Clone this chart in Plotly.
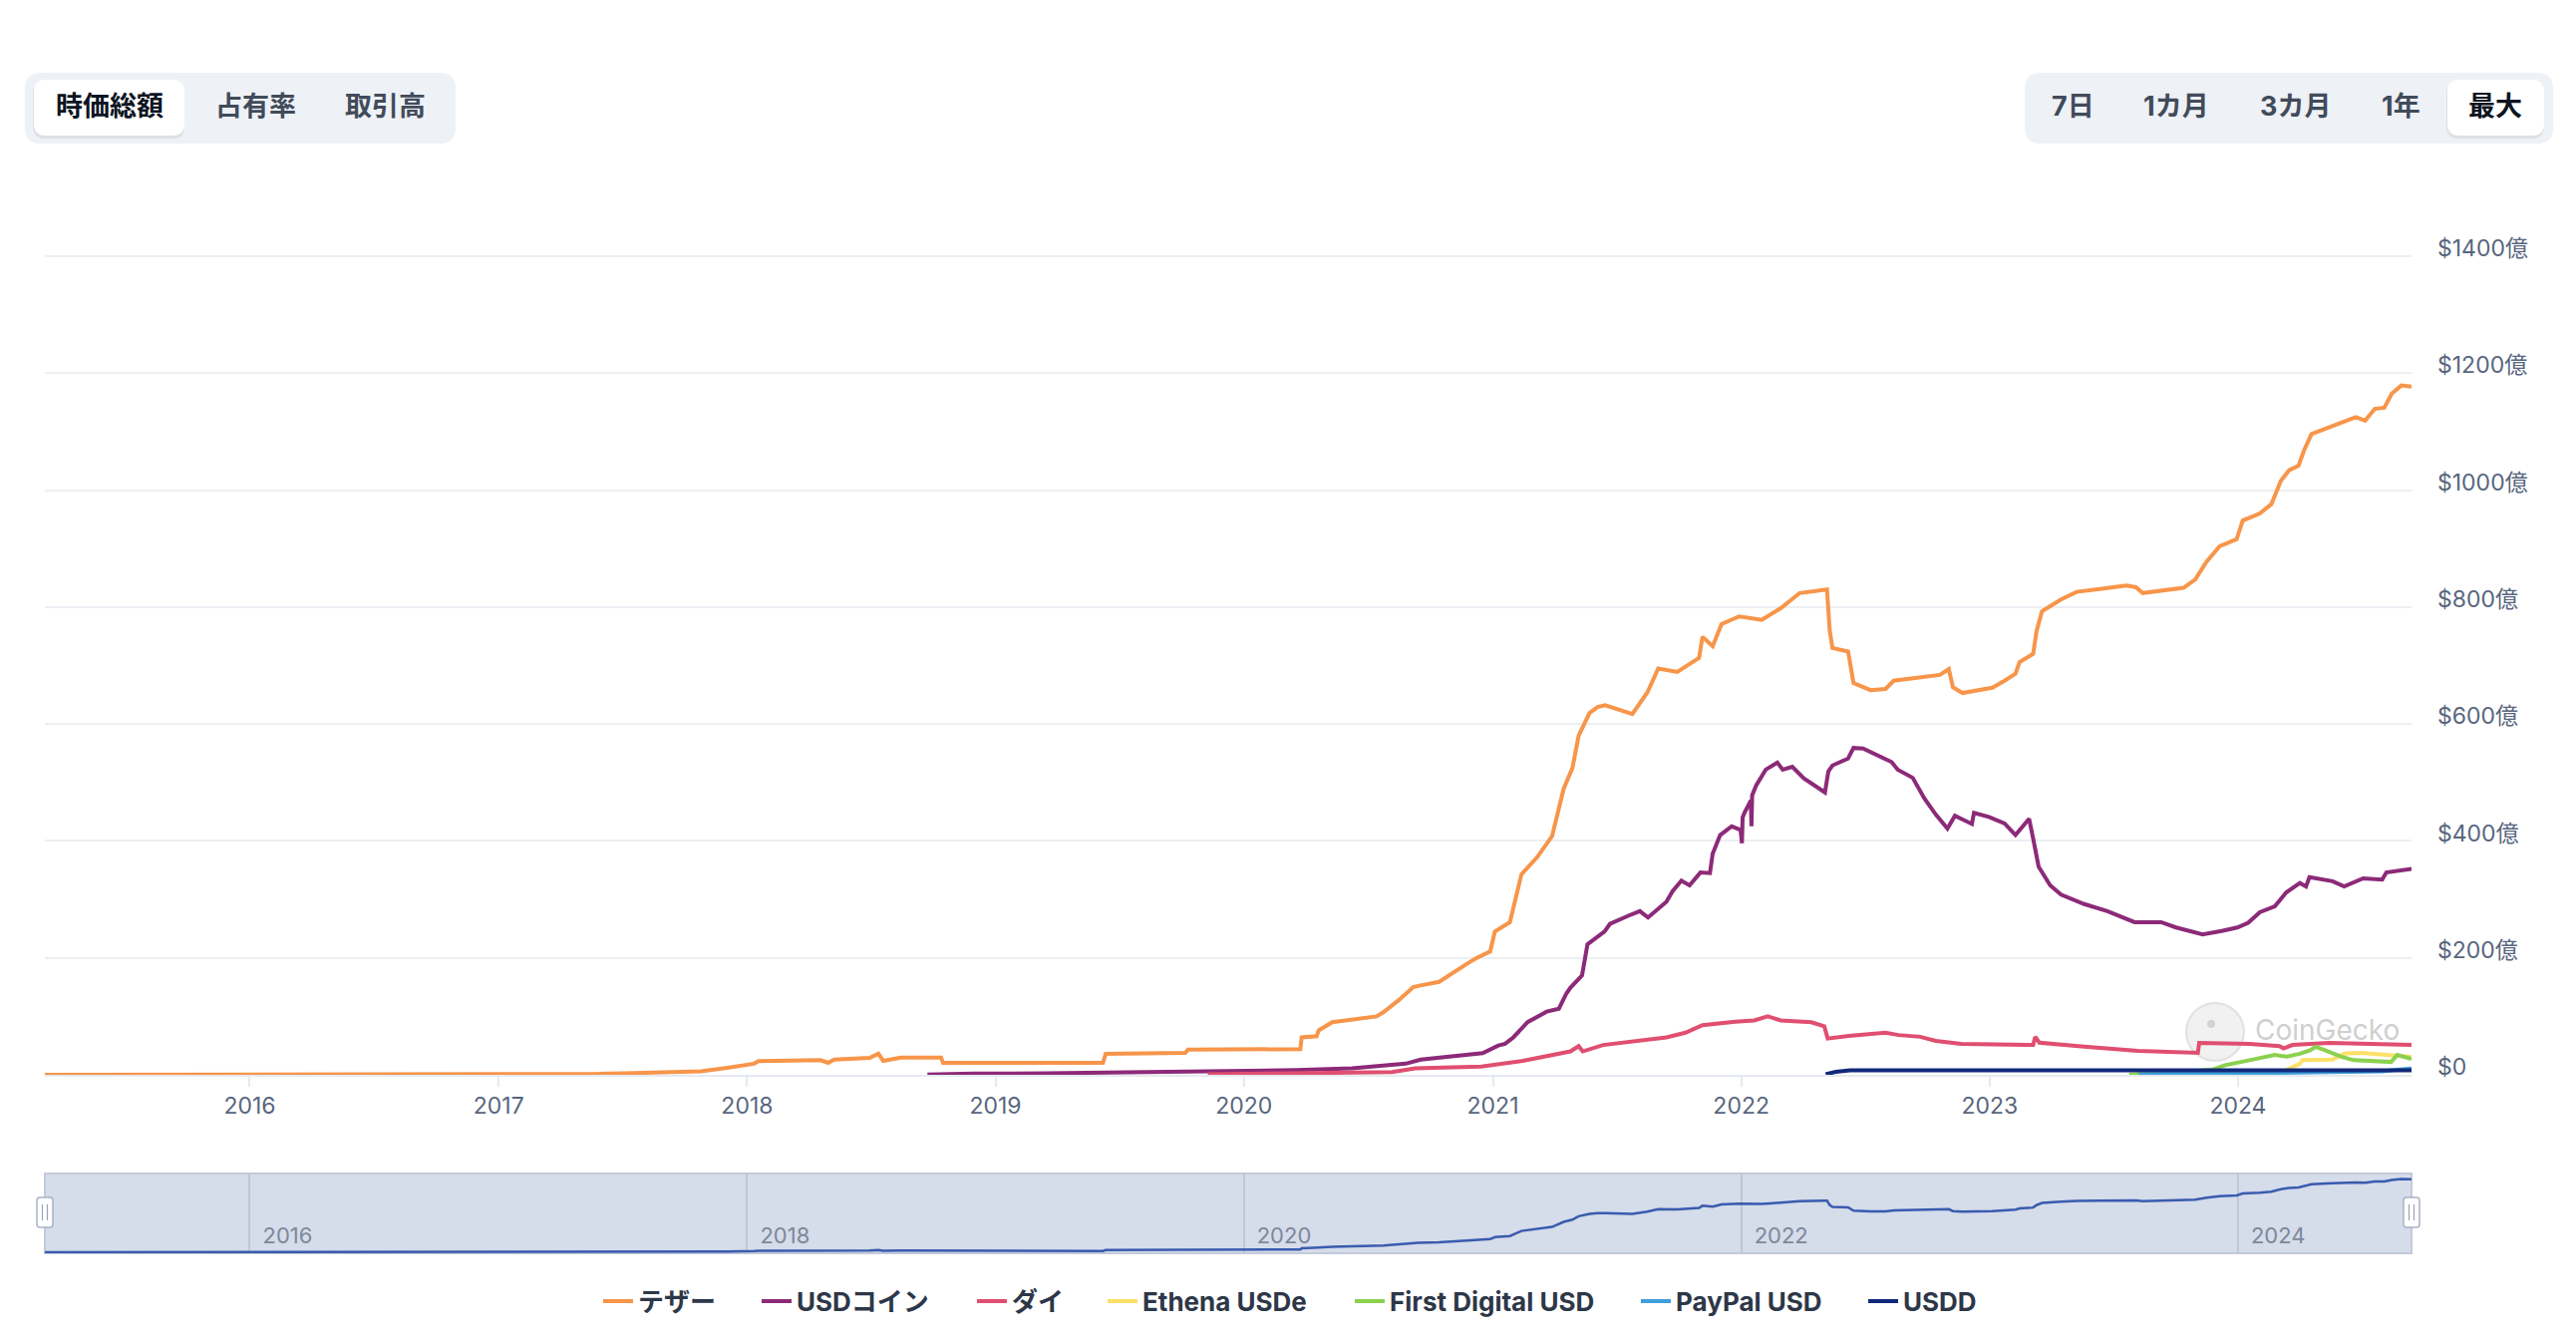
import plotly.graph_objects as go

FONT = "Inter, 'Noto Sans CJK JP', 'Noto Sans', sans-serif"

# ---------------- data (market cap, unit: 億 USD) ----------------
usdt_dates = ["2015-03-06", "2015-09-01", "2016-01-01", "2016-06-01", "2016-12-01", "2017-03-01",
              "2017-05-28", "2017-07-20", "2017-09-10", "2017-10-25", "2017-12-03", "2018-01-11",
              "2018-01-18", "2018-02-10", "2018-04-19", "2018-04-30", "2018-05-09", "2018-06-30",
              "2018-07-13", "2018-07-20", "2018-08-15", "2018-10-13", "2018-10-16", "2019-06-08",
              "2019-06-12", "2019-10-07", "2019-10-11", "2020-03-24", "2020-03-26", "2020-04-17",
              "2020-04-20", "2020-05-10", "2020-07-14", "2020-07-24", "2020-08-16", "2020-09-06",
              "2020-09-13", "2020-10-14", "2020-11-14", "2020-11-24", "2020-12-07", "2020-12-28",
              "2021-01-04", "2021-01-26", "2021-02-12", "2021-03-07", "2021-03-29", "2021-04-15",
              "2021-04-28", "2021-05-07", "2021-05-23", "2021-06-04", "2021-06-15", "2021-07-25",
              "2021-08-16", "2021-09-01", "2021-09-29", "2021-10-31", "2021-11-05", "2021-11-20",
              "2021-12-03", "2021-12-29", "2022-01-31", "2022-02-28", "2022-03-28", "2022-05-04",
              "2022-05-07", "2022-05-11", "2022-05-15", "2022-06-07", "2022-06-15", "2022-07-10",
              "2022-08-01", "2022-08-13", "2022-09-27", "2022-10-20", "2022-11-02", "2022-11-08",
              "2022-11-22", "2023-01-05", "2023-01-23", "2023-02-08", "2023-02-14", "2023-03-06",
              "2023-03-11", "2023-03-19", "2023-04-16", "2023-05-09", "2023-06-12", "2023-07-21",
              "2023-08-04", "2023-08-14", "2023-10-13", "2023-10-30", "2023-11-16", "2023-12-05",
              "2023-12-30", "2024-01-08", "2024-02-02", "2024-02-19", "2024-03-04", "2024-03-16",
              "2024-03-30", "2024-04-07", "2024-04-18", "2024-05-19", "2024-06-22", "2024-07-06",
              "2024-07-20", "2024-08-03", "2024-08-14", "2024-08-28", "2024-09-12"]
usdt_vals = [0.02, 0.03, 0.05, 0.1, 0.1, 0.5,
             1.5, 3, 4.5, 6, 12, 19,
             23.5, 24, 25, 20.5, 26, 29,
             36, 24, 29.5, 29.5, 20.5, 20.5,
             36, 37.5, 43, 44, 64, 66,
             76, 90, 100, 107, 128, 150,
             152, 159, 184, 190, 199, 211,
             245, 261, 343, 372, 408, 489,
             525, 580, 619, 629, 632, 617,
             654, 695, 689, 713, 749, 733,
             771, 784, 778, 798, 824, 831,
             830, 760, 730, 724, 670, 658,
             660, 674, 680, 684, 694, 663,
             653, 662, 674, 686, 706, 720,
             759, 793, 813, 826, 831, 837,
             834, 824, 833, 847, 878, 904,
             916, 948, 960, 976, 1016, 1034,
             1042, 1068, 1096, 1110, 1125, 1119,
             1139, 1141, 1165, 1179, 1177]

usdc_dates = ["2018-09-23", "2018-12-01", "2019-03-17", "2019-08-01", "2020-02-17", "2020-03-18",
              "2020-06-08", "2020-08-16", "2020-08-26", "2020-09-17", "2020-10-25", "2020-12-17",
              "2021-01-09", "2021-01-19", "2021-01-31", "2021-02-21", "2021-03-21", "2021-04-08",
              "2021-04-19", "2021-04-25", "2021-05-12", "2021-05-20", "2021-06-14", "2021-06-22",
              "2021-07-19", "2021-08-05", "2021-08-17", "2021-09-02", "2021-09-13", "2021-09-22",
              "2021-10-05", "2021-10-17", "2021-11-02", "2021-11-16", "2021-11-20", "2021-12-01",
              "2021-12-18", "2021-12-31", "2022-01-02", "2022-01-03", "2022-01-06", "2022-01-15",
              "2022-01-16", "2022-01-17", "2022-01-23", "2022-02-06", "2022-02-23", "2022-03-03",
              "2022-03-17", "2022-04-03", "2022-05-04", "2022-05-09", "2022-05-15", "2022-06-07",
              "2022-06-15", "2022-06-29", "2022-07-16", "2022-08-10", "2022-08-19", "2022-09-10",
              "2022-09-27", "2022-10-14", "2022-10-31", "2022-11-11", "2022-12-06", "2022-12-09",
              "2022-12-31", "2023-01-23", "2023-02-08", "2023-02-28", "2023-03-06", "2023-03-14",
              "2023-03-31", "2023-04-16", "2023-05-20", "2023-06-23", "2023-08-02", "2023-09-10",
              "2023-10-02", "2023-11-10", "2023-12-08", "2023-12-31", "2024-01-16", "2024-02-02",
              "2024-02-24", "2024-03-12", "2024-04-01", "2024-04-10", "2024-04-15", "2024-05-19",
              "2024-06-05", "2024-07-03", "2024-07-31", "2024-08-06", "2024-09-12"]
usdc_vals = [0.5, 2, 2.5, 5, 7, 8,
             11, 17, 19, 26, 30, 37,
             50, 53, 64, 90, 108, 113,
             139, 149, 170, 223, 245, 258,
             272, 280, 269, 284, 296, 314,
             332, 324, 346, 345, 378, 410,
             425, 419, 396, 440, 449, 469,
             425, 478, 495, 522, 534, 522,
             527, 507, 483, 519, 529, 541,
             559, 558, 548, 535, 522, 508,
             473, 445, 421, 443, 429, 448,
             441, 430, 410, 438, 404, 356,
             324, 308, 292, 280, 261, 261,
             252, 240, 246, 252, 260, 278,
             288, 312, 328, 322, 338, 331,
             322, 336, 334, 346, 352]

dai_dates = ["2019-11-09", "2020-01-05", "2020-08-06", "2020-09-09", "2020-12-15", "2021-02-14",
             "2021-04-25", "2021-05-07", "2021-05-13", "2021-06-12", "2021-08-15", "2021-09-13",
             "2021-10-11", "2021-11-05", "2021-12-23", "2022-01-20", "2022-02-09", "2022-02-28",
             "2022-04-14", "2022-05-03", "2022-05-08", "2022-06-08", "2022-08-01", "2022-08-20",
             "2022-09-21", "2022-10-14", "2022-11-20", "2023-03-06", "2023-03-09", "2023-03-15",
             "2023-05-20", "2023-08-07", "2023-11-03", "2023-11-05", "2024-01-18", "2024-03-02",
             "2024-03-08", "2024-03-21", "2024-05-14", "2024-07-20", "2024-09-12"]
dai_vals = [0.8, 1.5, 4.6, 11, 14, 24,
            40, 49, 40, 51, 60, 64,
            72, 85, 91, 93, 100, 93,
            90, 83, 62, 66.5, 72, 68,
            65, 58, 53, 51, 65, 55,
            48, 41, 37.5, 54.6, 53, 49,
            45, 51, 54.6, 53, 51]

usde_dates = ["2024-02-20", "2024-03-08", "2024-04-01", "2024-04-05", "2024-05-18", "2024-06-07",
              "2024-06-30", "2024-07-23", "2024-08-15", "2024-09-06", "2024-09-12"]
usde_vals = [1, 6, 19, 25, 26, 36.5, 37.5, 35.6, 33, 31, 30.5]

fdusd_dates = ["2023-07-25", "2023-09-01", "2023-10-15", "2023-11-25", "2023-12-13", "2024-01-18",
               "2024-02-24", "2024-03-13", "2024-04-01", "2024-04-16", "2024-04-24", "2024-05-08",
               "2024-06-01", "2024-06-19", "2024-08-13", "2024-08-22", "2024-09-07", "2024-09-12"]
fdusd_vals = [0.5, 2, 5, 9, 16.5, 25, 34, 31, 36, 42, 48, 42, 31, 25, 22, 34, 28, 27]

pyusd_dates = ["2023-08-08", "2023-09-15", "2023-12-01", "2024-02-01", "2024-05-01", "2024-07-01",
               "2024-08-01", "2024-08-20", "2024-09-12"]
pyusd_vals = [0.3, 1.5, 1.8, 2.5, 3.8, 4.2, 6, 8.5, 10.5]

usdd_dates = ["2022-05-05", "2022-05-20", "2022-06-10", "2022-10-01", "2023-03-01", "2023-09-01",
              "2024-03-01", "2024-09-12"]
usdd_vals = [1, 5, 7.5, 7.3, 7.2, 7.3, 7.4, 7.6]

series_names = ["テザー", "USDコイン", "ダイ", "Ethena USDe", "First Digital USD", "PayPal USD", "USDD"]
series_colors = ["#F7954A", "#8C2A78", "#E04F70", "#FCE068", "#8BD14F", "#3F9FDB", "#12297A"]
series_data = [(usdt_dates, usdt_vals), (usdc_dates, usdc_vals), (dai_dates, dai_vals),
               (usde_dates, usde_vals), (fdusd_dates, fdusd_vals), (pyusd_dates, pyusd_vals),
               (usdd_dates, usdd_vals)]

y_ticks = [0, 200, 400, 600, 800, 1000, 1200, 1400]
y_tick_text = ["$0", "$200億", "$400億", "$600億", "$800億", "$1000億", "$1200億", "$1400億"]
x_tick_years = [2016, 2017, 2018, 2019, 2020, 2021, 2022, 2023, 2024]
nav_tick_years = [2016, 2018, 2020, 2022, 2024]
x_range = ["2015-03-06", "2024-09-12"]

left_buttons = ["時価総額", "占有率", "取引高"]
right_buttons = ["7日", "1カ月", "3カ月", "1年", "最大"]

# ---------------- layout helpers (pixel -> paper) ----------------
W, H = 2584, 1346
PL, PR, PT, PB = 45, 2419, 254, 1257
Y0_PX, PX_PER = 1078, 0.5864          # y=0 pixel row and px per 億
Y_TOP = (Y0_PX - PT) / PX_PER         # value at top of plot


def px(x):
    return (x - PL) / (PR - PL)


def py(y):
    return (PB - y) / (PB - PT)


def rrect(x0, y0, x1, y1, r):
    def p(x, y):
        return f"{px(x):.6f},{py(y):.6f}"
    return (f"M{p(x0 + r, y0)} L{p(x1 - r, y0)} Q{p(x1, y0)} {p(x1, y0 + r)} "
            f"L{p(x1, y1 - r)} Q{p(x1, y1)} {p(x1 - r, y1)} L{p(x0 + r, y1)} "
            f"Q{p(x0, y1)} {p(x0, y1 - r)} L{p(x0, y0 + r)} Q{p(x0, y0)} {p(x0 + r, y0)} Z")


fig = go.Figure()

legend_ids = ["legend", "legend2", "legend3", "legend4", "legend5", "legend6", "legend7"]
legend_text_x = [640, 799, 1015, 1146, 1394, 1681, 1909]

for name, color, (dx, dy), lid in zip(series_names, series_colors, series_data, legend_ids):
    fig.add_trace(go.Scatter(x=dx, y=dy, name=name, mode="lines", legend=lid,
                             line=dict(color=color, width=4), xaxis="x", yaxis="y"))

# navigator series
fig.add_trace(go.Scatter(x=usdt_dates, y=usdt_vals, mode="lines", showlegend=False,
                         line=dict(color="#3A5BAE", width=2.5), xaxis="x2", yaxis="y2"))

shapes = []
annotations = []

# navigator background
shapes.append(dict(type="rect", xref="x2 domain", yref="y2 domain", x0=0, x1=1, y0=0, y1=1,
                   fillcolor="#D5DCEA", line=dict(color="#C3CBDA", width=2), layer="below"))

# navigator handles
for hx in (PL, PR):
    shapes.append(dict(type="path", xref="paper", yref="paper",
                       path=rrect(hx - 8, 1201, hx + 8, 1231, 3),
                       fillcolor="#FFFFFF", line=dict(color="#A9B3C3", width=1.5), layer="above"))
    for dxp in (-2.5, 2.5):
        shapes.append(dict(type="line", xref="paper", yref="paper",
                           x0=px(hx + dxp), x1=px(hx + dxp), y0=py(1208), y1=py(1224),
                           line=dict(color="#9AA4B4", width=1.2), layer="above"))

# button groups
shapes.append(dict(type="path", xref="paper", yref="paper", path=rrect(25, 73, 457, 144, 16),
                   fillcolor="#EEF1F6", line=dict(width=0)))
shapes.append(dict(type="path", xref="paper", yref="paper", path=rrect(33, 82, 185, 139, 12),
                   fillcolor="rgba(0,0,0,0.07)", line=dict(width=0)))
shapes.append(dict(type="path", xref="paper", yref="paper", path=rrect(34, 80, 185, 136, 12),
                   fillcolor="#FFFFFF", line=dict(width=0)))
shapes.append(dict(type="path", xref="paper", yref="paper", path=rrect(2031, 73, 2561, 144, 16),
                   fillcolor="#EEF1F6", line=dict(width=0)))
shapes.append(dict(type="path", xref="paper", yref="paper", path=rrect(2454, 82, 2552, 139, 12),
                   fillcolor="rgba(0,0,0,0.07)", line=dict(width=0)))
shapes.append(dict(type="path", xref="paper", yref="paper", path=rrect(2455, 80, 2552, 136, 12),
                   fillcolor="#FFFFFF", line=dict(width=0)))

left_centers = [110, 256, 386]
right_centers = [2079, 2183, 2302, 2408, 2503]
for i, (t, cx) in enumerate(zip(left_buttons, left_centers)):
    annotations.append(dict(text=t, x=px(cx), y=py(107), xref="paper", yref="paper",
                            showarrow=False, xanchor="center", yanchor="middle",
                            font=dict(family=FONT, size=27, weight="bold",
                                      color="#0D1421" if i == 0 else "#414B5A")))
for i, (t, cx) in enumerate(zip(right_buttons, right_centers)):
    annotations.append(dict(text=t, x=px(cx), y=py(107), xref="paper", yref="paper",
                            showarrow=False, xanchor="center", yanchor="middle",
                            font=dict(family=FONT, size=27, weight="bold",
                                      color="#0D1421" if i == len(right_buttons) - 1 else "#414B5A")))

# watermark
shapes.append(dict(type="circle", xref="paper", yref="paper",
                   x0=px(2193), x1=px(2251), y0=py(1064), y1=py(1006),
                   fillcolor="rgba(215,215,215,0.35)", line=dict(color="rgba(205,205,205,0.55)", width=2),
                   layer="below"))
shapes.append(dict(type="circle", xref="paper", yref="paper",
                   x0=px(2214), x1=px(2222), y0=py(1031), y1=py(1023),
                   fillcolor="rgba(190,190,190,0.6)", line=dict(width=0), layer="below"))
annotations.append(dict(text="CoinGecko", x=px(2260), y=py(1033), xref="paper", yref="paper",
                        showarrow=False, xanchor="left", yanchor="middle",
                        font=dict(family=FONT, size=28, color="rgba(165,165,165,0.55)")))

legend_layouts = {}
for lid, tx in zip(legend_ids, legend_text_x):
    legend_layouts[lid] = dict(orientation="h", xref="container", yref="container",
                               x=(tx - 40) / W, y=(H - 1305) / H, xanchor="left", yanchor="middle",
                               bgcolor="rgba(0,0,0,0)", borderwidth=0,
                               font=dict(family=FONT, size=26, color="#2D3748", weight="bold"),
                               itemclick=False, itemdoubleclick=False)

fig.update_layout(
    width=W, height=H,
    margin=dict(l=PL, r=W - PR, t=PT, b=H - PB, pad=0, autoexpand=False),
    paper_bgcolor="#FFFFFF", plot_bgcolor="rgba(0,0,0,0)",
    font=dict(family=FONT, size=22, color="#58667E"),
    showlegend=True,
    xaxis=dict(type="date", range=x_range, domain=[0, 1], anchor="y",
               tickvals=[f"{y}-01-01" for y in x_tick_years], ticktext=[str(y) for y in x_tick_years],
               showgrid=False, zeroline=False, showline=True, linecolor="#E6EAF0", linewidth=2,
               ticks="outside", ticklen=10, tickwidth=2, tickcolor="#E6EAF0",
               tickfont=dict(family=FONT, size=23, color="#58667E"), ticklabelstandoff=-1,
               fixedrange=True),
    yaxis=dict(range=[0, Y_TOP], domain=[(PB - Y0_PX) / (PB - PT), 1], anchor="x", side="right",
               tickvals=y_ticks, ticktext=y_tick_text, showgrid=True, gridcolor="#ECEFF3", gridwidth=2,
               zeroline=False, showline=False, ticks="",
               tickfont=dict(family=FONT, size=23, color="#58667E"),
               ticklabelstandoff=25, ticklabelshift=-8, fixedrange=True),
    xaxis2=dict(type="date", range=x_range, domain=[0, 1], anchor="y2",
                tickvals=[f"{y}-01-01" for y in nav_tick_years], ticktext=[str(y) for y in nav_tick_years],
                showgrid=True, gridcolor="#BEC7D6", gridwidth=1.5, zeroline=False, showline=False,
                ticks="", ticklabelposition="inside right", ticklabelshift=13,
                tickfont=dict(family=FONT, size=22, color="#7D889A"), fixedrange=True),
    yaxis2=dict(range=[-16, 1268], domain=[0, (PB - 1177) / (PB - PT)], anchor="x2",
                visible=False, fixedrange=True),
    shapes=shapes,
    annotations=annotations,
    hovermode=False,
    **legend_layouts,
)

fig.write_html("out.html", config={"displayModeBar": False},
               post_script="document.body.style.margin='0px';document.body.style.overflow='hidden';")
